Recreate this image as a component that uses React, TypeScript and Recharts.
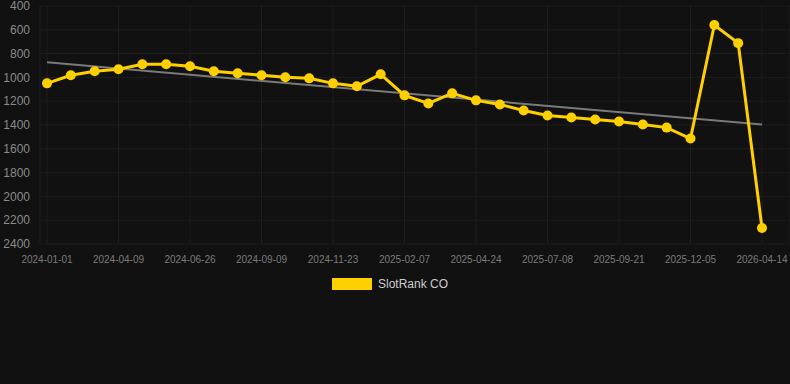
import React from "react";
import { LineChart, Line, XAxis, YAxis, CartesianGrid, Legend } from "recharts";

const dates = [
  "2024-01-01", "2024-02-03", "2024-03-07", "2024-04-09", "2024-05-05", "2024-05-31",
  "2024-06-26", "2024-07-21", "2024-08-15", "2024-09-09", "2024-10-04", "2024-10-29",
  "2024-11-23", "2024-12-18", "2025-01-13", "2025-02-07", "2025-03-04", "2025-03-30",
  "2025-04-24", "2025-05-19", "2025-06-13", "2025-07-08", "2025-08-02", "2025-08-27",
  "2025-09-21", "2025-10-16", "2025-11-10", "2025-12-05", "2026-01-17", "2026-03-01",
  "2026-04-14",
];

const rankValues = [
  1050, 982, 949, 932, 889, 889, 906, 949, 965, 982, 999, 1008, 1050, 1075, 974, 1151,
  1219, 1134, 1193, 1227, 1278, 1320, 1337, 1354, 1371, 1396, 1422, 1514, 560, 712, 2265,
];

const trendStart = 873;
const trendEnd = 1396;

const yTicks = [400, 600, 800, 1000, 1200, 1400, 1600, 1800, 2000, 2200, 2400];

const data = dates.map((d, i) => ({
  date: d,
  rank: rankValues[i],
  trend: i === 0 ? trendStart : i === dates.length - 1 ? trendEnd : null,
}));

const FONT = '"Liberation Sans", Arial, Helvetica, sans-serif';

const renderLegend = () => (
  <div style={{ display: "flex", justifyContent: "center", alignItems: "center", height: 20, paddingRight: 10, fontFamily: FONT }}>
    <span style={{ display: "inline-block", width: 40, height: 12, background: "#FFD000", marginRight: 6 }} />
    <span style={{ color: "#cccccc", fontSize: 12 }}>SlotRank CO</span>
  </div>
);

export default function App() {
  return (
    <div style={{ position: "absolute", left: 0, top: 0, width: 790, height: 384, background: "#111111", fontFamily: FONT }}>
      <LineChart width={790} height={300} data={data} margin={{ top: 6, right: 0, left: 0, bottom: 6 }}>
        <CartesianGrid stroke="#1e1e1e" strokeWidth={1} />
        <XAxis
          dataKey="date"
          interval={2}
          tick={{ fill: "#7a7a7a", fontSize: 10, fontFamily: FONT }}
          tickLine={false}
          axisLine={false}
          tickMargin={6}
          padding={{ left: 7, right: 28 }}
          height={30}
        />
        <YAxis
          reversed
          domain={[400, 2400]}
          ticks={yTicks}
          interval={0}
          width={40}
          tick={{ fill: "#8a8a8a", fontSize: 12, fontFamily: FONT }}
          tickLine={false}
          axisLine={false}
          tickMargin={4}
        />
        <Legend verticalAlign="bottom" content={renderLegend} />
        <Line
          dataKey="trend"
          stroke="#7a7a7a"
          strokeWidth={2}
          dot={false}
          connectNulls
          legendType="none"
          isAnimationActive={false}
        />
        <Line
          dataKey="rank"
          name="SlotRank CO"
          stroke="#FFD000"
          strokeWidth={3}
          dot={{ r: 5, fill: "#FFD000", stroke: "#FFD000", strokeWidth: 0 }}
          activeDot={false}
          isAnimationActive={false}
        />
      </LineChart>
    </div>
  );
}
